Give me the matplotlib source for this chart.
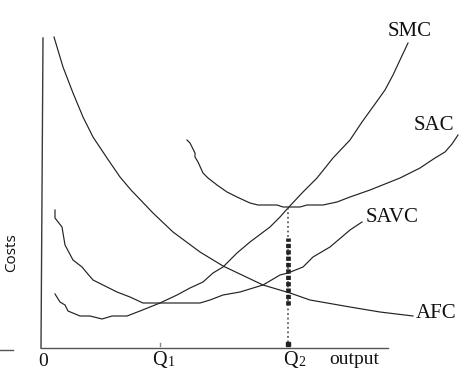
"""Short-run cost curves: AFC, SAVC, SAC and SMC against output."""

import matplotlib
matplotlib.use("Agg")
import matplotlib.pyplot as plt

AFC_X = [12, 21, 31, 41, 51, 65, 78, 89, 111, 131, 158, 181, 221, 248, 268, 308, 338, 371]
AFC_Y = [310, 280, 254, 230, 210, 189, 170, 157, 134, 115, 95, 81, 62, 54, 47, 40, 35, 31]

SMC_X = [13, 18, 23, 26, 38, 48, 60, 70, 85, 98, 118, 135, 148, 161, 171, 181, 195, 208,
         228, 238, 246, 261, 275, 291, 308, 320, 333, 343, 351, 358, 366]
SMC_Y = [53, 45, 42, 36, 31, 31, 28, 31, 31, 36, 44, 52, 59, 65, 74, 80, 94, 105,
         120, 130, 139, 155, 169, 189, 207, 225, 243, 257, 272, 287, 304]

SAC_X = [145, 148, 153, 153, 156, 161, 166, 175, 185, 195, 208, 216, 235, 241, 258, 265,
         281, 295, 308, 328, 358, 378, 393, 403, 410, 416]
SAC_Y = [207, 204, 194, 190, 185, 174, 169, 162, 155, 150, 144, 142, 142, 140, 140, 142,
         142, 145, 150, 157, 169, 179, 189, 195, 203, 212]

SAVC_X = [13, 13, 20, 23, 31, 40, 45, 51, 65, 75, 88, 101, 158, 168, 181, 198, 221, 238,
          246, 261, 271, 288, 308, 320]
SAVC_Y = [137, 129, 120, 102, 87, 80, 74, 67, 60, 55, 50, 44, 44, 47, 52, 55, 62, 72,
          74, 80, 90, 100, 117, 125]

X_END = 346
Y_TOP = 309
Q1 = 118
Q2 = 246
Q2_COST = 139
THICK_SPAN = (42, 109)

CURVE_LABELS = {"SMC": (368, 315), "SAC": (392, 222), "SAVC": (350, 130), "AFC": (394, 33)}


def main():
    fig = plt.figure(figsize=(4.77, 3.76), dpi=100)
    ax = fig.add_axes([0, 0, 1, 1])
    ax.set_xlim(-42, 435)
    ax.set_ylim(-29, 347)
    ax.axis("off")

    ink = "#222222"
    lw = 0.85

    # axes
    ax.plot([-1, 1], [-1, Y_TOP], color="#3a3a3a", lw=1.0)
    ax.plot([-1, X_END], [-1, -1], color="#555555", lw=1.0)
    ax.plot([-42, -29], [-3, -3], color="#555555", lw=1.0)
    ax.plot([Q1, Q1], [1, 4], color="#888888", lw=1.0)

    ax.plot(AFC_X, AFC_Y, color=ink, lw=lw)
    ax.plot(SMC_X, SMC_Y, color=ink, lw=lw)
    ax.plot(SAC_X, SAC_Y, color=ink, lw=lw)
    ax.plot(SAVC_X, SAVC_Y, color=ink, lw=lw)

    # dotted drop line at Q2
    ax.plot([Q2, Q2], [0, Q2_COST], color="#444444", lw=1.1, ls=(0, (1.2, 1.8)))
    ax.plot([Q2, Q2], list(THICK_SPAN), color=ink, lw=3.4, ls=(0, (0.9, 0.45)))
    ax.plot([Q2], [3], marker="s", ms=3, color=ink)

    serif = "Liberation Serif"
    txt = "#111111"
    for name, (x, y) in CURVE_LABELS.items():
        ax.text(x, y, name, family=serif, fontsize=15, ha="center", va="center", color=txt)

    ax.text(1, -14, "0", family=serif, fontsize=14, ha="center", va="center", color=txt)
    ax.text(Q1 - 0.5, -14, "Q", family=serif, fontsize=14.5, ha="center", va="center", color=txt)
    ax.text(Q1 + 8, -15.5, "1", family=serif, fontsize=10, ha="left", va="center", color=txt)
    ax.text(Q2 + 2, -14, "Q", family=serif, fontsize=14.5, ha="center", va="center", color=txt)
    ax.text(Q2 + 10, -15.5, "2", family=serif, fontsize=10, ha="left", va="center", color=txt)
    ax.text(312, -13, "output", family=serif, fontsize=14, ha="center", va="center", color=txt)

    ax.text(-30, 94, "Costs", family="Open Sans", fontsize=11, rotation=90,
            ha="center", va="center", color=txt)

    fig.savefig("out.png", dpi=100, facecolor="white")
    plt.close(fig)


if __name__ == "__main__":
    main()
